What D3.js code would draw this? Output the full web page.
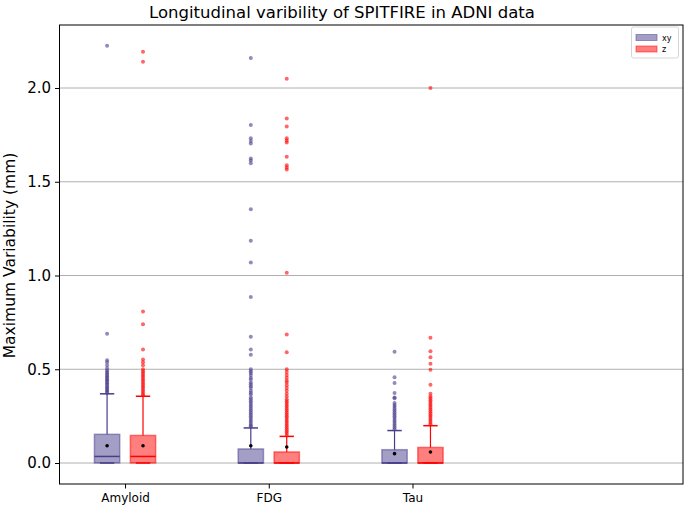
<!DOCTYPE html>
<html><head><meta charset="utf-8">
<script src="https://cdn.jsdelivr.net/npm/d3@7"></script>
<style>body{margin:0;background:#fff}svg{display:block}text{font-family:"DejaVu Sans",sans-serif}</style>
</head><body><svg id="c" width="685" height="509"></svg>
<script>
const categories = ["Amyloid", "FDG", "Tau"];
const seriesNames = ["xy", "z"];
// box stats per category: [q1, median, q3, whiskerLow, whiskerHigh, mean]
const xyStats = [
  [0, 0.035, 0.153, 0, 0.369, 0.092],
  [0, 0, 0.075, 0, 0.187, 0.092],
  [0, 0, 0.071, 0, 0.173, 0.050]
];
const zStats = [
  [0, 0.035, 0.147, 0, 0.356, 0.092],
  [0, 0, 0.059, 0, 0.142, 0.085],
  [0, 0, 0.083, 0, 0.199, 0.059]
];
const xyOutliers = [
  [2.225, 0.689, 0.548, 0.537, 0.521, 0.505, 0.493, 0.485, 0.478, 0.470, 0.462, 0.455, 0.447, 0.440, 0.432, 0.425, 0.418, 0.410, 0.402, 0.395, 0.388, 0.380, 0.375],
  [2.16, 1.803, 1.732, 1.718, 1.704, 1.624, 1.613, 1.599, 1.353, 1.186, 1.07, 0.885, 0.673, 0.605, 0.578, 0.50, 0.49, 0.48, 0.47, 0.455, 0.445, 0.43, 0.42, 0.41, 0.40, 0.385, 0.375, 0.365, 0.35, 0.34, 0.33, 0.32, 0.31, 0.30, 0.29, 0.28, 0.27, 0.26, 0.25, 0.24, 0.23, 0.22, 0.21, 0.20, 0.195],
  [0.593, 0.457, 0.427, 0.374, 0.350, 0.345, 0.320, 0.310, 0.300, 0.290, 0.280, 0.270, 0.260, 0.250, 0.240, 0.230, 0.220, 0.210, 0.200, 0.190, 0.180]
];
const zOutliers = [
  [2.194, 2.14, 0.808, 0.740, 0.605, 0.552, 0.537, 0.521, 0.500, 0.490, 0.480, 0.470, 0.460, 0.450, 0.440, 0.430, 0.420, 0.410, 0.400, 0.390, 0.380, 0.370, 0.362],
  [2.05, 1.838, 1.795, 1.732, 1.72, 1.709, 1.634, 1.588, 1.576, 1.565, 1.015, 0.685, 0.591, 0.50, 0.485, 0.47, 0.455, 0.44, 0.43, 0.415, 0.40, 0.385, 0.37, 0.355, 0.34, 0.33, 0.32, 0.31, 0.30, 0.29, 0.28, 0.27, 0.26, 0.25, 0.24, 0.23, 0.22, 0.21, 0.20, 0.19, 0.18, 0.17, 0.16, 0.15],
  [2.0, 0.668, 0.596, 0.564, 0.529, 0.497, 0.418, 0.370, 0.355, 0.345, 0.335, 0.325, 0.315, 0.305, 0.295, 0.285, 0.275, 0.265, 0.255, 0.245, 0.235, 0.225, 0.215, 0.205]
];
const yTicks = [0.0, 0.5, 1.0, 1.5, 2.0];

const svg = d3.select("#c");
const L = 59.5, R = 683, T = 25, B = 484;
const x = d3.scaleLinear().domain([0.544, 4.882]).range([L, R]);
const y = d3.scaleLinear().domain([-0.112, 2.336]).range([B, T]);

const colors = {
  xy: {line: "#483d8b", fill: "rgba(72,61,139,0.5)", dot: "rgba(72,61,139,0.6)"},
  z: {line: "#ff0000", fill: "rgba(255,0,0,0.5)", dot: "rgba(255,0,0,0.6)"}
};

// grid
svg.append("g").selectAll("line").data(yTicks).join("line")
  .attr("x1", L).attr("x2", R).attr("y1", d => y(d)).attr("y2", d => y(d))
  .attr("stroke", "#b0b0b0").attr("stroke-width", 1);

// axes
const yAxis = svg.append("g").attr("transform", `translate(${L},0)`)
  .call(d3.axisLeft(y).tickValues(yTicks).tickFormat(d3.format(".1f")).tickSize(4.5).tickPadding(4));
const xAxis = svg.append("g").attr("transform", `translate(0,${B})`)
  .call(d3.axisBottom(x).tickValues([1, 2, 3]).tickFormat((d, i) => categories[i]).tickSize(4.5).tickPadding(5));
[yAxis, xAxis].forEach(a => {
  a.select(".domain").remove();
  a.selectAll("line").attr("stroke", "#000");
  a.selectAll("text").attr("fill", "#000").style("font-family", "DejaVu Sans");
});
yAxis.selectAll("text").style("font-size", "15px");
xAxis.selectAll("text").style("font-size", "12px");

const offset = 0.125, bw = 0.176, cw = 0.1;
function drawSeries(stats, outs, name, sign) {
  const c = colors[name];
  const g = svg.append("g");
  stats.forEach((s, i) => {
    const cx = i + 1 + sign * offset;
    const [q1, med, q3, wl, wh, mean] = s;
    g.append("line").attr("x1", x(cx)).attr("x2", x(cx)).attr("y1", y(q3)).attr("y2", y(wh))
      .attr("stroke", c.line).attr("stroke-width", 1.2);
    [wl, wh].forEach(v => g.append("line").attr("x1", x(cx - cw / 2)).attr("x2", x(cx + cw / 2))
      .attr("y1", y(v)).attr("y2", y(v)).attr("stroke", c.line).attr("stroke-width", 1.5));
    g.append("rect").attr("x", x(cx - bw / 2)).attr("width", x(cx + bw / 2) - x(cx - bw / 2))
      .attr("y", y(q3)).attr("height", y(q1) - y(q3))
      .attr("fill", c.fill).attr("stroke", c.fill).attr("stroke-width", 1.5);
    g.append("line").attr("x1", x(cx - bw / 2)).attr("x2", x(cx + bw / 2)).attr("y1", y(med)).attr("y2", y(med))
      .attr("stroke", c.line).attr("stroke-width", 1.5);
    g.append("circle").attr("cx", x(cx)).attr("cy", y(mean)).attr("r", 1.8).attr("fill", "#000");
    g.selectAll(null).data(outs[i]).join("circle")
      .attr("cx", x(cx)).attr("cy", d => y(d)).attr("r", 2).attr("fill", c.dot);
  });
}
drawSeries(xyStats, xyOutliers, "xy", -1);
drawSeries(zStats, zOutliers, "z", 1);

// frame
svg.append("rect").attr("x", L).attr("y", T).attr("width", R - L).attr("height", B - T)
  .attr("fill", "none").attr("stroke", "#000").attr("stroke-width", 1);

// title
svg.append("text").attr("x", 342).attr("y", 18).attr("text-anchor", "middle")
  .style("font-size", "16.5px").text("Longitudinal varibility of SPITFIRE in ADNI data");

// y label
svg.append("text").attr("transform", `translate(15,${(T + B) / 2 + 1}) rotate(-90)`).attr("text-anchor", "middle")
  .style("font-size", "15.5px").text("Maximum Variability (mm)");

// legend
const lg = svg.append("g");
lg.append("rect").attr("x", 631.5).attr("y", 27).attr("width", 47).attr("height", 31).attr("rx", 2)
  .attr("fill", "#fff").attr("stroke", "#ccc").attr("stroke-width", 0.8);
seriesNames.forEach((n, i) => {
  const yy = 34.5 + i * 11.5;
  lg.append("rect").attr("x", 636).attr("y", yy).attr("width", 21).attr("height", 6)
    .attr("fill", colors[n].fill).attr("stroke", colors[n].fill);
  lg.append("text").attr("x", 662).attr("y", yy + 6).style("font-size", "8px").text(n);
});
</script></body></html>
